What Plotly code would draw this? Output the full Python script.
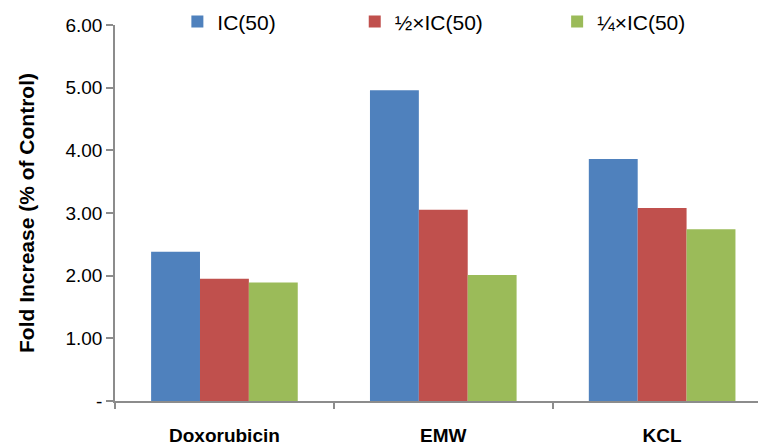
import plotly.graph_objects as go

# Fold increase relative to control for each compound at three doses
compounds = ["Doxorubicin", "EMW", "KCL"]
ic50_full = [2.38, 4.96, 3.86]
ic50_half = [1.95, 3.05, 3.08]
ic50_quarter = [1.89, 2.01, 2.74]

series_names = ["IC(50)", "½×IC(50)", "¼×IC(50)"]
series_colors = ["#4F81BD", "#C0504D", "#9BBB59"]

y_ticks = [0, 1, 2, 3, 4, 5, 6]
y_ticktext = ["-", "1.00", "2.00", "3.00", "4.00", "5.00", "6.00"]

FONT = "Liberation Sans, Arial, sans-serif"
AXIS_GREY = "#8C8C8C"

fig = go.Figure()
legend_ids = ["legend", "legend2", "legend3"]
for vals, name, color, lg in zip([ic50_full, ic50_half, ic50_quarter],
                                 series_names, series_colors, legend_ids):
    fig.add_trace(go.Bar(x=compounds, y=vals, name=name,
                         marker=dict(color=color, line=dict(width=0)),
                         legend=lg))

# one legend per series, spread across the top
legend_x = [0.234, 0.468, 0.735]
legend_common = dict(orientation="h", xref="container", yref="container",
                     xanchor="left", yanchor="middle", y=0.951,
                     font=dict(family=FONT, size=21, color="#000000"),
                     bgcolor="rgba(0,0,0,0)", borderwidth=0)
fig.update_layout(
    legend=dict(x=legend_x[0], **legend_common),
    legend2=dict(x=legend_x[1], **legend_common),
    legend3=dict(x=legend_x[2], **legend_common),
)

fig.update_layout(
    width=758, height=447,
    margin=dict(l=115, r=0, t=25, b=46, autoexpand=False),
    paper_bgcolor="white", plot_bgcolor="white",
    barmode="group", bargap=0.33, bargroupgap=0,
    showlegend=True,
    font=dict(family=FONT, color="#000000"),
    xaxis=dict(
        type="category", range=[-0.5, 2.438],
        showline=True, linecolor=AXIS_GREY, linewidth=2,
        ticks="outside", tickson="boundaries", ticklen=6,
        tickcolor=AXIS_GREY, tickwidth=1.5,
        ticklabelstandoff=16,
        tickfont=dict(family=FONT, size=19, color="#000000", weight="bold"),
        showgrid=False, zeroline=False,
        automargin=False,
    ),
    yaxis=dict(
        range=[0, 6], tickvals=y_ticks, ticktext=y_ticktext,
        showline=True, linecolor=AXIS_GREY, linewidth=1.5,
        ticks="outside", ticklen=7, tickcolor=AXIS_GREY, tickwidth=1.5,
        tickfont=dict(family=FONT, size=19, color="#000000"),
        showgrid=False, zeroline=False,
        title=dict(text="Fold Increase (% of Control)",
                   font=dict(family=FONT, size=21, color="#000000", weight="bold"),
                   standoff=25),
        automargin=False,
    ),
)

fig.write_html("out.html")
